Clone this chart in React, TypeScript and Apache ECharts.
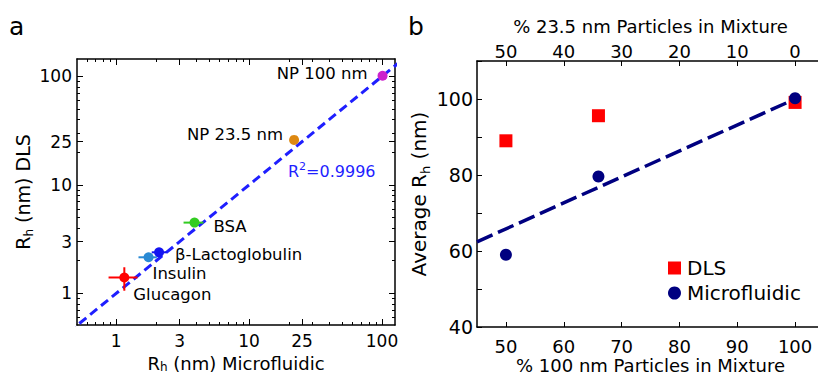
import React, { useEffect, useRef } from 'react';
import * as echarts from 'echarts';

// ---------- Panel a data (nm) ----------
const sampleNames = ['Glucagon', 'Insulin', 'β-Lactoglobulin', 'BSA', 'NP 23.5 nm', 'NP 100 nm'];
const rhMicrofluidic = [1.15, 1.75, 2.1, 3.88, 21.8, 101];
const rhDLS = [1.4, 2.15, 2.39, 4.49, 26.0, 101.5];
const microErrLow = [0.875, 1.47, 1.85, 3.21, 21.8, 101];
const microErrHigh = [1.445, 2.02, 2.4, 4.53, 21.8, 101];
const dlsErrLow = [1.057, 2.15, 2.39, 4.49, 26.0, 101.5];
const dlsErrHigh = [1.74, 2.15, 2.39, 4.49, 26.0, 101.5];
const identityLine = [0.3, 200];
const rSquaredText = '0.9996';
const logMajorTicks = [1, 3, 10, 25, 100];
const logMinorTicks = [0.6, 0.7, 0.8, 0.9, 2, 3, 4, 5, 6, 7, 8, 9, 20, 30, 40, 50, 60, 70, 80, 90];

// ---------- Panel b data ----------
const pct100nm = [50, 66, 100];
const avgRhDLS = [89.0, 95.6, 99.1];
const avgRhMicro = [59.0, 79.6, 100.2];
const fitX = [45, 100];
const fitY = [62.4, 100.0];
const pctTicks = [50, 60, 70, 80, 90, 100];

// ---------- styles ----------
const pointColors = ['#ff0000', '#2a8ad4', '#1414f0', '#33cc22', '#dd8811', '#cc22cc'];
const labelPlacement: any[] = [
  { position: 'right', distance: 4, offset: [0, 17] },
  { position: 'right', distance: 0, offset: [-1, 16.5] },
  { position: 'right', distance: 11, offset: [0, 2] },
  { position: 'right', distance: 14, offset: [0, 4] },
  { position: 'left', distance: 6, offset: [0, -5] },
  { position: 'left', distance: 10, offset: [0, -2] },
];

const FONT = 'DejaVu Sans';
const L = (v: number) => Math.log10(v);

function buildOption() {
  const xMin = -0.2955, xMax = 2.098, yMin = -0.292, yMax = 2.161;
  const majorLog = logMajorTicks.map(L);
  const minorLog = logMinorTicks.map(L);
  const fmtLog = (v: number) => String(Math.round(Math.pow(10, v)));
  const axisLineStyle = { show: true, onZero: false, lineStyle: { color: '#000', width: 1.5 } };

  const logAxis = (dim: 'x' | 'y', position: string, major: boolean, labels: boolean, name?: string) => {
    const base: any = {
      type: 'value',
      gridIndex: 0,
      position,
      nameMoveOverlap: false,
      min: dim === 'x' ? xMin : yMin,
      max: dim === 'x' ? xMax : yMax,
      splitLine: { show: false },
      axisLine: major ? axisLineStyle : { show: false, onZero: false },
      axisTick: {
        show: true,
        inside: true,
        length: major ? 6 : 3,
        customValues: major ? majorLog : minorLog,
        lineStyle: { color: '#000', width: 1 },
      },
      axisLabel: labels
        ? { show: true, customValues: majorLog, formatter: fmtLog, fontSize: 17, color: '#000', fontFamily: FONT, margin: dim === 'x' ? 7 : 5 }
        : { show: false },
    };
    if (name) {
      base.name = name;
      base.nameLocation = 'middle';
      base.nameTextStyle = {
        fontFamily: FONT,
        rich: {
          a: { fontSize: dim === 'x' ? 18 : 19, color: '#000', fontFamily: FONT, lineHeight: dim === 'x' ? 20 : 24 },
          b: { fontSize: 12, color: '#000', fontFamily: FONT, verticalAlign: 'bottom', lineHeight: 14 },
        },
      };
      base.nameGap = dim === 'x' ? 28 : 42;
    }
    return base;
  };

  const xAxis: any[] = [
    logAxis('x', 'bottom', true, true, '{a|R}{b|h}{a| (nm) Microfluidic}'),
    logAxis('x', 'bottom', false, false),
    logAxis('x', 'top', true, false),
    logAxis('x', 'top', false, false),
    {
      type: 'value', gridIndex: 1, position: 'bottom', min: 45, max: 105, nameMoveOverlap: false,
      splitLine: { show: false }, axisLine: axisLineStyle,
      axisTick: { show: true, inside: true, length: 5, customValues: pctTicks, lineStyle: { color: '#000' } },
      axisLabel: { customValues: pctTicks, fontSize: 18, lineHeight: 18, color: '#000', fontFamily: FONT, margin: 10 },
      name: '% 100 nm Particles in Mixture', nameLocation: 'middle', nameGap: 29,
      nameTextStyle: { fontSize: 18, lineHeight: 18, color: '#000', fontFamily: FONT },
    },
    {
      type: 'value', gridIndex: 1, position: 'top', min: 45, max: 105, nameMoveOverlap: false,
      splitLine: { show: false }, axisLine: axisLineStyle,
      axisTick: { show: true, inside: true, length: 5, customValues: pctTicks, lineStyle: { color: '#000' } },
      axisLabel: { customValues: pctTicks, formatter: (v: number) => String(100 - v), fontSize: 18, color: '#000', fontFamily: FONT, margin: 1 },
      name: '% 23.5 nm Particles in Mixture', nameLocation: 'middle', nameGap: 26,
      nameTextStyle: { fontSize: 18, color: '#000', fontFamily: FONT },
    },
  ];

  const yAxis: any[] = [
    logAxis('y', 'left', true, true, '{a|R}{b|h}{a| (nm) DLS}'),
    logAxis('y', 'left', false, false),
    logAxis('y', 'right', true, false),
    logAxis('y', 'right', false, false),
    {
      type: 'value', gridIndex: 1, position: 'left', min: 40, max: 110, interval: 10, nameMoveOverlap: false,
      splitLine: { show: false }, axisLine: axisLineStyle,
      axisTick: { show: true, inside: true, length: 5, lineStyle: { color: '#000' } },
      axisLabel: { formatter: (v: number) => (v % 20 === 0 ? String(v) : ''), fontSize: 19, color: '#000', fontFamily: FONT, margin: 4 },
      name: '{a|Average R}{b|h}{a| (nm)}', nameLocation: 'middle', nameGap: 45,
      nameTextStyle: {
        rich: {
          a: { fontSize: 20, color: '#000', fontFamily: FONT, lineHeight: 26 },
          b: { fontSize: 13, color: '#000', fontFamily: FONT, verticalAlign: 'bottom', lineHeight: 15 },
        },
      },
    },
  ];

  const scatterData = sampleNames.map((n, i) => ({
    name: n,
    value: [L(rhMicrofluidic[i]), L(rhDLS[i])],
    itemStyle: { color: pointColors[i], opacity: 1 },
    label: {
      show: true,
      formatter: n,
      fontSize: 16.5,
      color: '#000',
      fontFamily: FONT,
      ...labelPlacement[i],
    },
  }));

  const errData = sampleNames.map((_, i) => [
    L(rhMicrofluidic[i]), L(rhDLS[i]),
    L(microErrLow[i]), L(microErrHigh[i]),
    L(dlsErrLow[i]), L(dlsErrHigh[i]), i,
  ]);

  const series: any[] = [
    {
      type: 'line', name: 'fitA', xAxisIndex: 0, yAxisIndex: 0,
      data: identityLine.map((v) => [L(v), L(v)]),
      showSymbol: false, symbol: 'none', clip: true, z: 1,
      lineStyle: { color: '#1f1fff', width: 3, type: [9, 5] },
    },
    {
      type: 'custom', name: 'errA', xAxisIndex: 0, yAxisIndex: 0, z: 2,
      data: errData,
      renderItem: (params: any, api: any) => {
        const x = api.value(0), y = api.value(1);
        const xl = api.value(2), xh = api.value(3), yl = api.value(4), yh = api.value(5);
        const c = pointColors[api.value(6)];
        const children: any[] = [];
        if (xh - xl > 1e-6) {
          const p1 = api.coord([xl, y]), p2 = api.coord([xh, y]);
          children.push({ type: 'line', shape: { x1: p1[0], y1: p1[1], x2: p2[0], y2: p2[1] }, style: { stroke: c, lineWidth: 2 } });
        }
        if (yh - yl > 1e-6) {
          const p1 = api.coord([x, yl]), p2 = api.coord([x, yh]);
          children.push({ type: 'line', shape: { x1: p1[0], y1: p1[1], x2: p2[0], y2: p2[1] }, style: { stroke: c, lineWidth: 2 } });
        }
        return { type: 'group', children };
      },
    },
    {
      type: 'scatter', name: 'pointsA', xAxisIndex: 0, yAxisIndex: 0, z: 3,
      symbol: 'circle', symbolSize: 10, data: scatterData,
    },
    {
      type: 'line', name: 'fitB', xAxisIndex: 4, yAxisIndex: 4, z: 1,
      data: fitX.map((x, i) => [x, fitY[i]]),
      showSymbol: false, symbol: 'none',
      lineStyle: { color: '#000080', width: 3.5, type: [17, 6] },
    },
    {
      type: 'scatter', name: 'DLS', xAxisIndex: 4, yAxisIndex: 4, z: 2,
      symbol: 'rect', symbolSize: 13, itemStyle: { color: '#ff0000', opacity: 1 },
      data: pct100nm.map((x, i) => [x, avgRhDLS[i]]),
    },
    {
      type: 'scatter', name: 'Microfluidic', xAxisIndex: 4, yAxisIndex: 4, z: 3,
      symbol: 'circle', symbolSize: 12, itemStyle: { color: '#000080', opacity: 1 },
      data: pct100nm.map((x, i) => [x, avgRhMicro[i]]),
    },
  ];

  return {
    animation: false,
    backgroundColor: '#fff',
    textStyle: { fontFamily: FONT },
    grid: [
      { left: 77, top: 59, width: 318, height: 266, containLabel: false, outerBoundsMode: 'none' },
      { left: 477, top: 61, width: 347, height: 266, containLabel: false, outerBoundsMode: 'none' },
    ],
    legend: {
      data: [{ name: 'DLS', icon: 'rect' }, { name: 'Microfluidic', icon: 'circle' }],
      orient: 'vertical', left: 663, top: 253,
      itemWidth: 13, itemHeight: 13, itemGap: 5,
      textStyle: { fontSize: 20, color: '#000', fontFamily: FONT, lineHeight: 20, padding: [0, 0, 0, 1] },
      selectedMode: false,
    },
    xAxis, yAxis, series,
    graphic: [
      { type: 'text', left: 9, top: 14, style: { text: 'a', fontSize: 25, fontFamily: FONT, fill: '#000' } },
      { type: 'text', left: 408, top: 14, style: { text: 'b', fontSize: 25, fontFamily: FONT, fill: '#000' } },
      {
        type: 'text', left: 288, top: 161,
        style: {
          text: '{r|R}{s|2}{r|=' + rSquaredText + '}',
          rich: {
            r: { fontSize: 16, fill: '#1f1fff', fontFamily: FONT, lineHeight: 20 },
            s: { fontSize: 11, fill: '#1f1fff', fontFamily: FONT, verticalAlign: 'top', lineHeight: 12 },
          },
        },
      },
    ],
  };
}

export default function App() {
  const ref = useRef<HTMLDivElement>(null);
  useEffect(() => {
    if (!ref.current) return;
    const chart = echarts.init(ref.current, null, { renderer: 'svg' });
    chart.setOption(buildOption() as any);
    return () => chart.dispose();
  }, []);
  return <div ref={ref} style={{ width: 818, height: 374, position: 'absolute', left: 0, top: 0, overflow: 'hidden' }} />;
}
